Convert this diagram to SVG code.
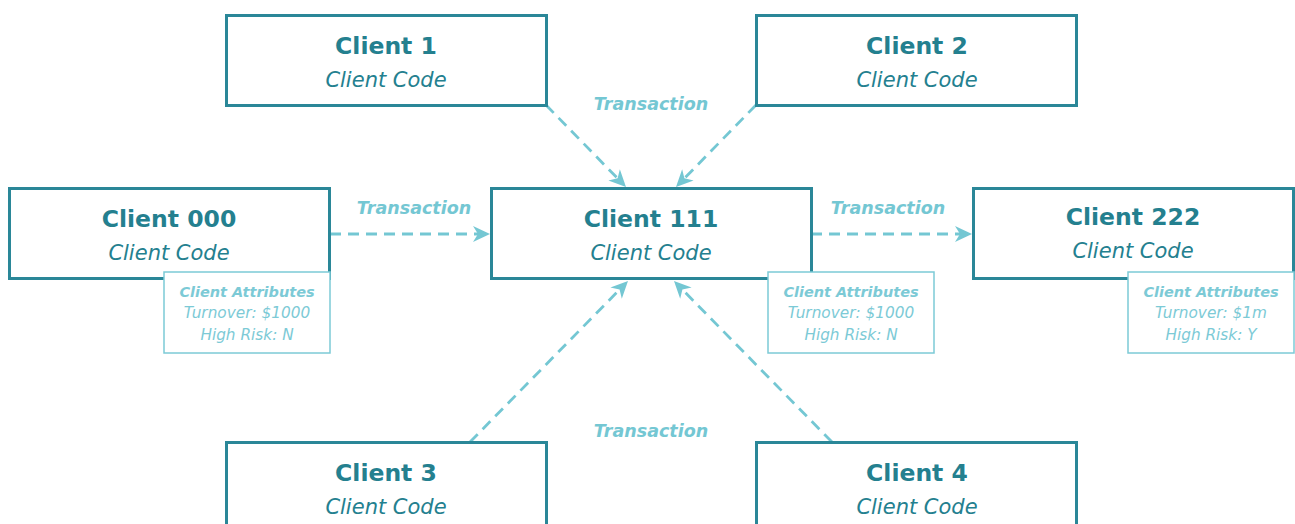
<svg xmlns="http://www.w3.org/2000/svg" width="1295" height="524" viewBox="0 0 1295 524">
  <style>
    .box { fill: #ffffff; stroke: #2a8798; stroke-width: 3; }
    .attr { fill: #ffffff; stroke: #7ccad6; stroke-width: 1.5; }
    .title { font-family: "DejaVu Sans", sans-serif; font-weight: bold; font-size: 23.5px; fill: #24808f; text-anchor: middle; }
    .code { font-family: "DejaVu Sans", sans-serif; font-style: italic; font-size: 21px; fill: #24808f; text-anchor: middle; }
    .ahead { font-family: "DejaVu Sans", sans-serif; font-style: italic; font-weight: bold; font-size: 14.5px; fill: #7ccad6; text-anchor: middle; }
    .aline { font-family: "DejaVu Sans", sans-serif; font-style: italic; font-size: 15.3px; fill: #7ccad6; text-anchor: middle; }
    .tx { font-family: "DejaVu Sans", sans-serif; font-style: italic; font-weight: bold; font-size: 17.5px; fill: #74c7d3; text-anchor: middle; }
    .link { fill: none; stroke: #74c7d3; stroke-width: 2.8; stroke-dasharray: 11 7; marker-end: url(#arrow); }
  </style>
  <defs>
    <marker id="arrow" markerUnits="userSpaceOnUse" viewBox="-16 -10 22 20" markerWidth="22" markerHeight="20" refX="0" refY="0" orient="auto" overflow="visible">
      <path d="M4,0 L-13,-8 L-8,0 L-13,8 Z" fill="#74c7d3"/>
    </marker>
  </defs>

  <!-- transaction connectors -->
  <g id="connectors">
    <path class="link" d="M546,105 L623.2,184.1"/>
    <path class="link" d="M756,105 L678.8,184.1"/>
    <path class="link" d="M330,234 L486,234"/>
    <path class="link" d="M811,234 L968,234"/>
    <path class="link" d="M470,442 L625.2,283.9"/>
    <path class="link" d="M832,442 L676.8,283.9"/>
    <text class="tx" x="651" y="110">Transaction</text>
    <text class="tx" x="414" y="214">Transaction</text>
    <text class="tx" x="888" y="214">Transaction</text>
    <text class="tx" x="651" y="437">Transaction</text>
  </g>

  <g id="client-1">
    <rect class="box" x="226.5" y="15.5" width="320" height="90"/>
    <text class="title" x="386" y="54">Client 1</text>
    <text class="code" x="386" y="87">Client Code</text>
  </g>

  <g id="client-2">
    <rect class="box" x="756.5" y="15.5" width="320" height="90"/>
    <text class="title" x="917" y="54">Client 2</text>
    <text class="code" x="917" y="87">Client Code</text>
  </g>

  <g id="client-000">
    <rect class="box" x="9.5" y="188.5" width="320" height="90"/>
    <text class="title" x="169" y="227">Client 000</text>
    <text class="code" x="169" y="260">Client Code</text>
    <rect class="attr" x="164" y="272" width="166" height="81"/>
    <text class="ahead" x="247" y="297">Client Attributes</text>
    <text class="aline" x="247" y="318">Turnover: $1000</text>
    <text class="aline" x="247" y="340">High Risk: N</text>
  </g>

  <g id="client-111">
    <rect class="box" x="491.5" y="188.5" width="320" height="90"/>
    <text class="title" x="651" y="227">Client 111</text>
    <text class="code" x="651" y="260">Client Code</text>
    <rect class="attr" x="768" y="272" width="166" height="81"/>
    <text class="ahead" x="851" y="297">Client Attributes</text>
    <text class="aline" x="851" y="318">Turnover: $1000</text>
    <text class="aline" x="851" y="340">High Risk: N</text>
  </g>

  <g id="client-222">
    <rect class="box" x="973.5" y="188.5" width="320" height="90"/>
    <text class="title" x="1133" y="225">Client 222</text>
    <text class="code" x="1133" y="258">Client Code</text>
    <rect class="attr" x="1128" y="272" width="166" height="81"/>
    <text class="ahead" x="1211" y="297">Client Attributes</text>
    <text class="aline" x="1211" y="318">Turnover: $1m</text>
    <text class="aline" x="1211" y="340">High Risk: Y</text>
  </g>

  <g id="client-3">
    <rect class="box" x="226.5" y="442.5" width="320" height="90"/>
    <text class="title" x="386" y="481">Client 3</text>
    <text class="code" x="386" y="514">Client Code</text>
  </g>

  <g id="client-4">
    <rect class="box" x="756.5" y="442.5" width="320" height="90"/>
    <text class="title" x="917" y="481">Client 4</text>
    <text class="code" x="917" y="514">Client Code</text>
  </g>
</svg>
